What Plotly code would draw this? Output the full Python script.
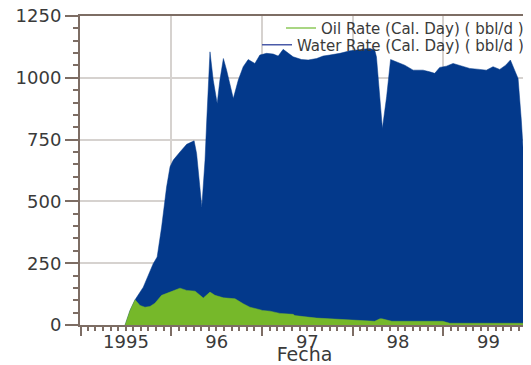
import plotly.graph_objects as go

water_dates = ["1995-06-29", "1995-07-19", "1995-08-08", "1995-08-15", "1995-09-10", "1995-10-20",
               "1995-11-05", "1995-11-23", "1995-12-13", "1995-12-27", "1996-01-09", "1996-02-05",
               "1996-03-03", "1996-04-02", "1996-04-12", "1996-05-03", "1996-05-16", "1996-05-23",
               "1996-06-05", "1996-06-18", "1996-07-04", "1996-07-15", "1996-07-29", "1996-08-11",
               "1996-09-07", "1996-09-27", "1996-10-17", "1996-11-06", "1996-11-20", "1996-12-03",
               "1996-12-23", "1997-01-19", "1997-02-15", "1997-03-07", "1997-03-27", "1997-04-16",
               "1997-05-06", "1997-06-09", "1997-07-06", "1997-08-09", "1997-09-04", "1997-10-01",
               "1997-11-11", "1997-12-21", "1998-01-30", "1998-03-11", "1998-03-31", "1998-04-07",
               "1998-05-01", "1998-05-18", "1998-06-03", "1998-06-27", "1998-07-30", "1998-09-02",
               "1998-10-12", "1998-11-08", "1998-11-28", "1998-12-18", "1999-01-14", "1999-02-10",
               "1999-03-09", "1999-04-18", "1999-05-28", "1999-06-24", "1999-07-21", "1999-08-17",
               "1999-09-10", "1999-09-29", "1999-10-16", "1999-10-30", "1999-11-12", "1999-11-22",
               "1999-11-28"]
water_rate = [0, 60, 102, 113, 153, 248,
              275, 396, 558, 640, 667, 700,
              731, 745, 694, 477, 667, 829,
              1105, 991, 896, 991, 1078, 1031,
              916, 991, 1045, 1074, 1065, 1058,
              1092, 1099, 1096, 1088, 1115, 1099,
              1085, 1074, 1072, 1078, 1088, 1092,
              1099, 1109, 1115, 1119, 1112, 1085,
              795, 923, 1074, 1065, 1051, 1031,
              1031, 1024, 1018, 1042, 1047, 1058,
              1051, 1038, 1034, 1031, 1045, 1034,
              1051, 1072, 1031, 997, 829, 667,
              620]

oil_dates = ["1995-06-29", "1995-07-19", "1995-08-08", "1995-08-28", "1995-09-17", "1995-10-07",
             "1995-10-27", "1995-11-23", "1995-12-27", "1996-02-05", "1996-03-03", "1996-04-06",
             "1996-04-26", "1996-05-09", "1996-06-05", "1996-06-25", "1996-07-29", "1996-09-14",
             "1996-10-17", "1996-11-13", "1996-12-23", "1997-01-02", "1997-02-02", "1997-03-14",
             "1997-05-06", "1997-05-13", "1997-06-16", "1997-07-21", "1997-08-09", "1997-10-01",
             "1998-02-19", "1998-03-31", "1998-04-21", "1998-04-29", "1998-06-08", "1998-12-30",
             "1999-01-28", "1999-11-28"]
oil_rate = [0, 59, 102, 79, 72, 75,
            88, 120, 133, 149, 140, 137,
            120, 109, 133, 120, 110, 106,
            86, 72, 62, 59, 56, 47,
            43, 38, 34, 29, 28, 25,
            18, 15, 25, 25, 15, 15,
            7, 7]

year_alias = {"1996": "96", "1997": "97", "1998": "98", "1999": "99"}

BLUE = "#03398b"
GREEN = "#76b82a"
AXIS = "#7d6d64"
GRID = "#d6d2cf"
TEXT = "#3a3a3a"
FONT = "DejaVu Sans"

fig = go.Figure()
fig.add_trace(go.Scatter(x=water_dates, y=water_rate, mode="lines", fill="tozeroy",
                         line=dict(color=BLUE, width=0.5), fillcolor=BLUE, showlegend=False))
fig.add_trace(go.Scatter(x=oil_dates, y=oil_rate, mode="lines", fill="tozeroy",
                         line=dict(color=GREEN, width=0.5), fillcolor=GREEN, showlegend=False))
fig.add_trace(go.Scatter(x=[None], y=[None], mode="lines", line=dict(color="#8cc85a", width=1.5),
                         name="Oil Rate (Cal. Day) ( bbl/d )", legend="legend"))
fig.add_trace(go.Scatter(x=[None], y=[None], mode="lines", line=dict(color="#4a5aa8", width=1.5),
                         name="Water Rate (Cal. Day) ( bbl/d )", legend="legend2"))

fig.update_layout(
    width=523, height=357,
    margin=dict(l=72, r=2, t=8, b=40),
    paper_bgcolor="white", plot_bgcolor="white",
    font=dict(family=FONT, color=TEXT),
    legend=dict(x=1.0, xanchor="right", y=0.96, yanchor="middle", bgcolor="rgba(0,0,0,0)",
                font=dict(size=15, color=TEXT), borderwidth=0, tracegroupgap=0),
    legend2=dict(x=1.0, xanchor="right", y=0.906, yanchor="middle", bgcolor="rgba(0,0,0,0)",
                 font=dict(size=15, color=TEXT), borderwidth=0, tracegroupgap=0),
    xaxis=dict(
        type="date", range=["1994-12-29", "1999-12-13"],
        tickmode="linear", tick0="1995-01-01", dtick="M12", tickformat="%Y",
        ticklabelmode="period", labelalias=year_alias, ticklabelstandoff=-10,
        ticklabeloverflow="allow",
        ticks="outside", ticklen=9, tickwidth=2, tickcolor=AXIS,
        minor=dict(dtick="M1", tick0="1995-01-01", ticks="outside", ticklen=4, tickwidth=1.5,
                   tickcolor=AXIS, showgrid=False),
        showgrid=True, gridcolor=GRID, gridwidth=1.5,
        showline=True, linecolor=AXIS, linewidth=2, mirror=True,
        tickfont=dict(size=18, color=TEXT, family=FONT),
        title=dict(text="Fecha", font=dict(size=19, color=TEXT, family=FONT), standoff=2),
        automargin=False, zeroline=False,
    ),
    yaxis=dict(
        range=[0, 1250], tickmode="linear", tick0=0, dtick=250,
        ticklabeloverflow="allow",
        ticks="outside", ticklen=13, tickwidth=2, tickcolor=AXIS,
        minor=dict(dtick=50, ticks="outside", ticklen=5, tickwidth=1.5, tickcolor=AXIS, showgrid=False),
        showgrid=True, gridcolor=GRID, gridwidth=1.5,
        showline=True, linecolor=AXIS, linewidth=2, mirror=True,
        tickfont=dict(size=18, color=TEXT, family=FONT),
        automargin=False, zeroline=False,
    ),
)

fig.write_html("out.html")
